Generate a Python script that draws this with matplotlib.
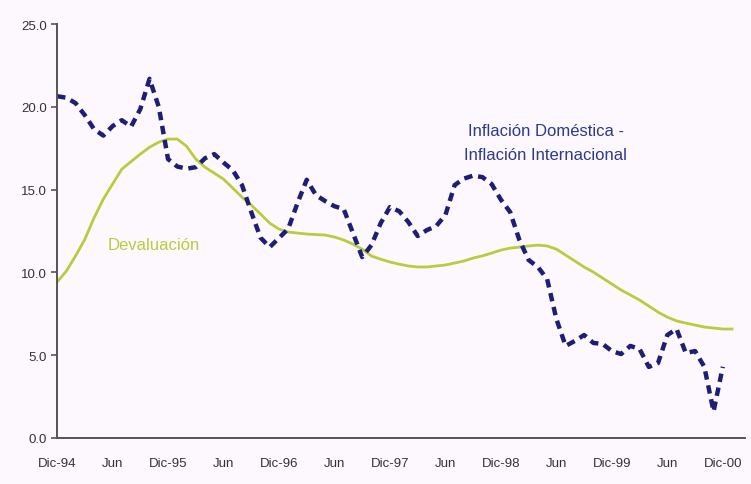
import numpy as np
import matplotlib.pyplot as plt

plt.rcParams['font.family'] = ['Liberation Sans', 'DejaVu Sans']

# months counted from Dec-94
tick_pos = [0, 6, 12, 18, 24, 30, 36, 42, 48, 54, 60, 66, 72]
tick_labels = ['Dic-94', 'Jun', 'Dic-95', 'Jun', 'Dic-96', 'Jun', 'Dic-97',
               'Jun', 'Dic-98', 'Jun', 'Dic-99', 'Jun', 'Dic-00']

# Inflacion domestica - inflacion internacional (monthly, Dec-94 .. Dec-00)
inflacion = [20.65, 20.56, 20.23, 19.50, 18.66, 18.27, 18.84, 19.20, 18.81, 19.87,
             21.70, 20.00, 16.85, 16.40, 16.27, 16.36, 16.90, 17.15, 16.64, 16.18,
             15.28, 13.65, 12.10, 11.53, 12.08, 12.64, 14.19, 15.60, 14.67, 14.31,
             14.00, 13.83, 12.38, 10.93, 11.65, 12.98, 13.95, 13.70, 13.04, 12.20,
             12.56, 12.80, 13.47, 15.28, 15.67, 15.85, 15.76, 15.34, 14.40, 13.65,
             11.96, 10.75, 10.33, 9.60, 7.19, 5.56, 5.86, 6.22, 5.74, 5.68,
             5.25, 5.07, 5.56, 5.37, 4.29, 4.53, 6.22, 6.58, 5.13, 5.25,
             4.30, 1.60, 4.30]

# Devaluacion (monthly, Dec-94 .. Jan-01)
devaluacion = [9.42, 10.08, 11.00, 12.00, 13.30, 14.43, 15.34, 16.24, 16.70, 17.15,
               17.57, 17.87, 18.06, 18.06, 17.63, 16.85, 16.36, 16.00, 15.64, 15.10,
               14.55, 14.07, 13.53, 12.98, 12.62, 12.44, 12.38, 12.32, 12.29, 12.26,
               12.14, 11.96, 11.71, 11.41, 10.99, 10.80, 10.63, 10.50, 10.39, 10.33,
               10.33, 10.39, 10.45, 10.57, 10.69, 10.87, 11.00, 11.17, 11.35, 11.47,
               11.53, 11.60, 11.65, 11.60, 11.41, 11.05, 10.69, 10.33, 10.02, 9.66,
               9.30, 8.94, 8.64, 8.33, 7.97, 7.60, 7.30, 7.07, 6.94, 6.82,
               6.70, 6.64, 6.58, 6.58]

bg = '#fdf8fd'
fig = plt.figure(figsize=(7.51, 4.85), dpi=100, facecolor=bg)
ax = fig.add_axes([0.076, 0.095, 0.916, 0.853], facecolor=bg)

ax.plot(np.arange(len(devaluacion)), devaluacion, color='#b9cc3e', lw=2.0)
ax.plot(np.arange(len(inflacion)), inflacion, color='#1e1e78', lw=3.2,
        linestyle=(0, (1.9, 1.3)))

ax.text(5.5, 11.7, 'Devaluación', color='#b9cc3e', fontsize=12, va='center')
ax.text(44.4, 18.6, 'Inflación Doméstica -', color='#2c3a8c', fontsize=12, va='center')
ax.text(44.0, 17.1, 'Inflación Internacional', color='#2c3a8c', fontsize=12, va='center')

ax.set_xlim(0, 74.4)
ax.set_ylim(0, 25)
ax.set_yticks([0, 5, 10, 15, 20, 25])
ax.set_yticklabels(['0.0', '5.0', '10.0', '15.0', '20.0', '25.0'])
ax.set_xticks(tick_pos)
ax.set_xticklabels(tick_labels)
ax.tick_params(axis='y', colors='#555555', labelcolor='#333333', labelsize=9.5,
               length=4, width=1.2)
ax.tick_params(axis='x', length=0, pad=14, labelcolor='#333333', labelsize=9.5)

for s in ['top', 'right']:
    ax.spines[s].set_visible(False)
for s in ['left', 'bottom']:
    ax.spines[s].set_color('#555555')
    ax.spines[s].set_linewidth(1.4)

fig.savefig('out.png', dpi=100, facecolor=bg)
